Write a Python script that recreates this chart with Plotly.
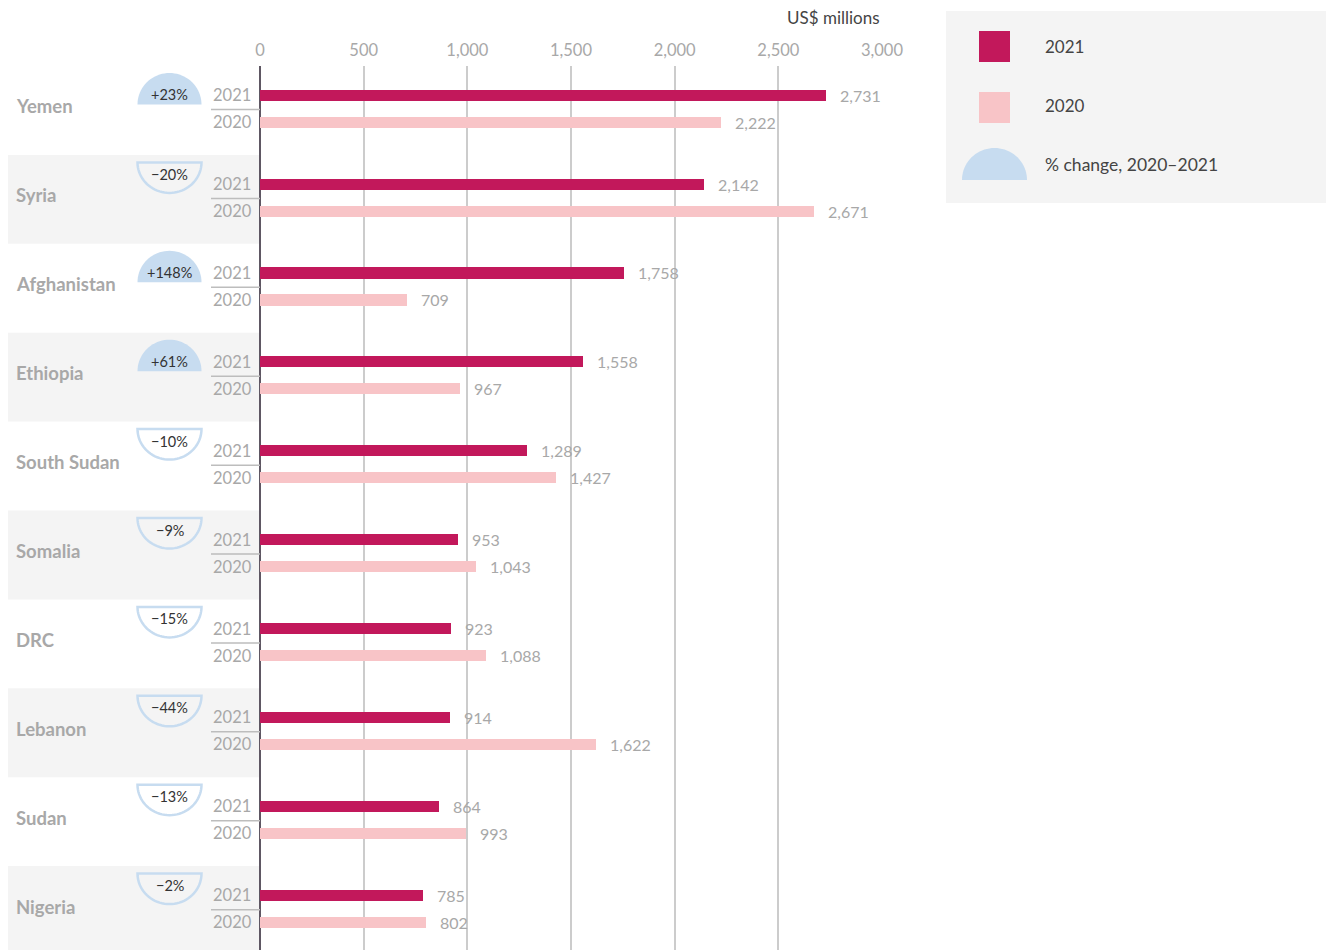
import numpy as np
import plotly.graph_objects as go

# ---------------- data ----------------
countries = ["Yemen", "Syria", "Afghanistan", "Ethiopia", "South Sudan",
             "Somalia", "DRC", "Lebanon", "Sudan", "Nigeria"]
values_2021 = [2731, 2142, 1758, 1558, 1289, 953, 923, 914, 864, 785]
values_2020 = [2222, 2671, 709, 967, 1427, 1043, 1088, 1622, 993, 802]
pct_change = [23, -20, 148, 61, -10, -9, -15, -44, -13, -2]
year_labels = ["2021", "2020"]
x_ticks = [0, 500, 1000, 1500, 2000, 2500, 3000]

# ---------------- style / layout constants ----------------
W, H = 1326, 950
L_PX, R_PX = 260, 882          # x-domain in page pixels
T_PX, B_PX = 66, 950           # y-domain in page pixels
ROW = 88.9                     # px per country row
PLOT_H = B_PX - T_PX
C21, C20 = "#c2185b", "#f8c4c7"
BLUE = "#c7dcf0"
GREY_TXT = "#a8a8a8"
DARK_TXT = "#444444"
FONT = "Lato"

OFF21, OFF20 = 0.328, 0.632    # bar centres within a row (row units)
BAR_W = 0.125


def px_x(px):            # page pixel -> x paper
    return (px - L_PX) / (R_PX - L_PX)


def py_row(py):          # pixel offset -> row units
    return py / ROW


def py_paper(py):        # page pixel -> y paper
    return 1 - (py - T_PX) / PLOT_H


n = len(countries)
idx = np.arange(n)
y21 = idx + OFF21
y20 = idx + OFF20

fig = go.Figure()
fig.add_trace(go.Bar(x=values_2021, y=y21, orientation="h", width=BAR_W,
                     marker=dict(color=C21, line=dict(width=0)), name="2021",
                     hoverinfo="x"))
fig.add_trace(go.Bar(x=values_2020, y=y20, orientation="h", width=BAR_W,
                     marker=dict(color=C20, line=dict(width=0)), name="2020",
                     hoverinfo="x"))

shapes = []
annotations = []

for i, c in enumerate(countries):
    # alternating row background
    if i % 2 == 1:
        shapes.append(dict(type="rect", xref="paper", yref="y", layer="below",
                           x0=px_x(8), x1=px_x(L_PX), y0=i, y1=i + 1,
                           fillcolor="#f4f4f4", line=dict(width=0)))
    # country label
    annotations.append(dict(xref="paper", yref="y", x=px_x(14), y=i + 0.455,
                            text="<b>%s</b>" % c, showarrow=False, xanchor="left",
                            yanchor="middle",
                            font=dict(family=FONT, size=18.5, color=GREY_TXT)))
    # year labels and separator
    annotations.append(dict(xref="paper", yref="y", x=px_x(211), y=i + OFF21,
                            text=year_labels[0], showarrow=False, xanchor="left",
                            yanchor="middle",
                            font=dict(family=FONT, size=16.5, color=GREY_TXT)))
    annotations.append(dict(xref="paper", yref="y", x=px_x(211), y=i + OFF20,
                            text=year_labels[1], showarrow=False, xanchor="left",
                            yanchor="middle",
                            font=dict(family=FONT, size=16.5, color=GREY_TXT)))
    shapes.append(dict(type="line", xref="paper", yref="y",
                       x0=px_x(211), x1=px_x(L_PX), y0=i + 0.49, y1=i + 0.49,
                       line=dict(color="#bdbdbd", width=1.5)))
    # value labels
    annotations.append(dict(x=values_2021[i], y=y21[i], xref="x", yref="y",
                            text=f"{values_2021[i]:,}", showarrow=False,
                            xanchor="left", yanchor="middle", xshift=12,
                            font=dict(family=FONT, size=16, color=GREY_TXT)))
    annotations.append(dict(x=values_2020[i], y=y20[i], xref="x", yref="y",
                            text=f"{values_2020[i]:,}", showarrow=False,
                            xanchor="left", yanchor="middle", xshift=12,
                            font=dict(family=FONT, size=16, color=GREY_TXT)))

    # % change badge (semicircle)
    cx, r = 169.5, 32.0
    th = np.linspace(0, np.pi, 41)
    p = pct_change[i]
    if p >= 0:
        flat = 38.5
        pys = flat - 31.5 * np.sin(th)
        txt_off = 28.5
    else:
        flat = 7.5
        pys = flat + 30.5 * np.sin(th)
        txt_off = 19.5
    pxs = cx + r * np.cos(th)
    path = "M " + " L ".join(f"{px_x(a):.5f},{i + py_row(b):.5f}"
                             for a, b in zip(pxs, pys)) + " Z"
    if p >= 0:
        shapes.append(dict(type="path", xref="paper", yref="y", path=path,
                           fillcolor=BLUE, line=dict(width=0)))
        label = f"+{p}%"
    else:
        shapes.append(dict(type="path", xref="paper", yref="y", path=path,
                           fillcolor="rgba(0,0,0,0)", line=dict(color=BLUE, width=2.5)))
        label = f"\u2212{abs(p)}%"
    annotations.append(dict(xref="paper", yref="y", x=px_x(cx), y=i + py_row(txt_off),
                            text=label, showarrow=False, xanchor="center",
                            yanchor="middle",
                            font=dict(family=FONT, size=14.5, color="#333333")))

# axis title
annotations.append(dict(xref="paper", yref="paper", x=px_x(882), y=py_paper(18),
                        text="US$ millions", showarrow=False, xanchor="right",
                        yanchor="middle", font=dict(family=FONT, size=17, color=DARK_TXT)))

# ---------------- legend box ----------------
shapes.append(dict(type="rect", xref="paper", yref="paper",
                   x0=px_x(946), x1=px_x(1326), y0=py_paper(203), y1=py_paper(11),
                   fillcolor="#f4f4f4", line=dict(width=0)))
shapes.append(dict(type="rect", xref="paper", yref="paper",
                   x0=px_x(979), x1=px_x(1010), y0=py_paper(62), y1=py_paper(31),
                   fillcolor=C21, line=dict(width=0)))
shapes.append(dict(type="rect", xref="paper", yref="paper",
                   x0=px_x(979), x1=px_x(1010), y0=py_paper(123), y1=py_paper(92),
                   fillcolor=C20, line=dict(width=0)))
th = np.linspace(0, np.pi, 41)
lpx = 994.5 + 32.5 * np.cos(th)
lpy = 180 - 32 * np.sin(th)
lpath = "M " + " L ".join(f"{px_x(a):.5f},{py_paper(b):.5f}" for a, b in zip(lpx, lpy)) + " Z"
shapes.append(dict(type="path", xref="paper", yref="paper", path=lpath,
                   fillcolor=BLUE, line=dict(width=0)))
for txt, py, sz in [("2021", 46, 17), ("2020", 106, 17), ("% change, 2020\u20132021", 164, 17.5)]:
    annotations.append(dict(xref="paper", yref="paper", x=px_x(1043), y=py_paper(py),
                            text=txt, showarrow=False, xanchor="left", yanchor="middle",
                            font=dict(family=FONT, size=sz, color=DARK_TXT)))

fig.update_layout(
    width=W, height=H,
    margin=dict(l=L_PX, r=W - R_PX, t=T_PX, b=H - B_PX, pad=0),
    paper_bgcolor="white", plot_bgcolor="white",
    showlegend=False, barmode="overlay", bargap=0,
    font=dict(family=FONT),
    shapes=shapes, annotations=annotations,
    xaxis=dict(range=[0, 3000], side="top", tickvals=x_ticks, tickformat=",",
               showgrid=True, gridcolor="#cccccc", gridwidth=1.5,
               zeroline=True, zerolinecolor="#5e5763", zerolinewidth=2,
               showline=False, ticks="", ticklabelstandoff=6,
               tickfont=dict(family=FONT, size=16.5, color=GREY_TXT)),
    yaxis=dict(range=[PLOT_H / ROW, 0], showgrid=False, zeroline=False,
               showticklabels=False, ticks="", showline=False),
)

fig.write_html(
    "out.html",
    config={"displayModeBar": False},
    post_script="document.body.style.margin='0px';"
                "document.documentElement.style.overflow='hidden';"
                "document.body.style.overflow='hidden';",
)
